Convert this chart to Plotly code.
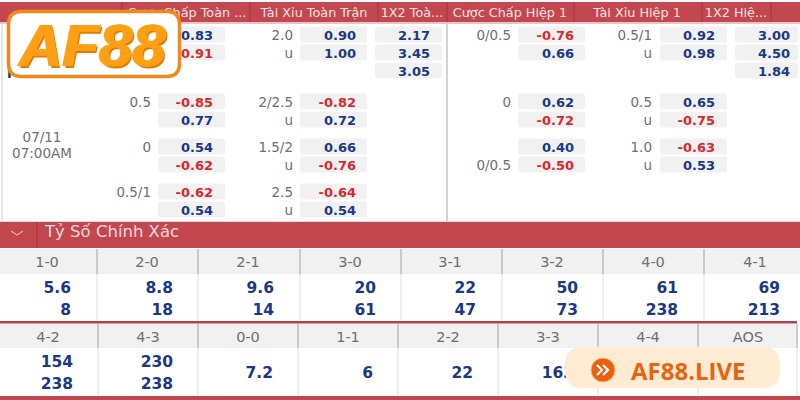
import plotly.graph_objects as go

# ---- data ----
head_labels = ["Cược Chấp Toàn ...", "Tài Xỉu Toàn Trận", "1X2 Toà...", "Cược Chấp Hiệp 1", "Tài Xỉu Hiệp 1", "1X2 Hiệ..."]

hcp_ft_lines = ["", "", "", "0.5", "", "0", "", "0.5/1", ""]
hcp_ft_odds = ["0.83", "-0.91", "", "-0.85", "0.77", "0.54", "-0.62", "-0.62", "0.54"]
ou_ft_lines = ["2.0", "u", "", "2/2.5", "u", "1.5/2", "u", "2.5", "u"]
ou_ft_odds = ["0.90", "1.00", "", "-0.82", "0.72", "0.66", "-0.76", "-0.64", "0.54"]
x12_ft_odds = ["2.17", "3.45", "3.05", "", "", "", "", "", ""]
hcp_h1_lines = ["0/0.5", "", "", "0", "", "", "0/0.5", "", ""]
hcp_h1_odds = ["-0.76", "0.66", "", "0.62", "-0.72", "0.40", "-0.50", "", ""]
ou_h1_lines = ["0.5/1", "u", "", "0.5", "u", "1.0", "u", "", ""]
ou_h1_odds = ["0.92", "0.98", "", "0.65", "-0.75", "-0.63", "0.53", "", ""]
x12_h1_odds = ["3.00", "4.50", "1.84", "", "", "", "", "", ""]

match_time = ["07/11", "07:00AM"]
section_title = "Tỷ Số Chính Xác"

scores_1 = ["1-0", "2-0", "2-1", "3-0", "3-1", "3-2", "4-0", "4-1"]
score_top_1 = ["5.6", "8.8", "9.6", "20", "22", "50", "61", "69"]
score_bot_1 = ["8", "18", "14", "61", "47", "73", "238", "213"]
scores_2 = ["4-2", "4-3", "0-0", "1-1", "2-2", "3-3", "4-4", "AOS"]
score_top_2 = ["154", "230", "", "", "", "", "", ""]
score_bot_2 = ["238", "238", "", "", "", "", "", ""]
score_mid_2 = ["", "", "7.2", "6", "22", "163", "", ""]

# ---- layout of the page ----
RED = "#C3474F"
BLUE = "#1A3885"
ODD_RED = "#D8282F"
GREY_TXT = "#6E6E6E"
CELL = "#F1F1F1"
ORANGE = "#F08A1C"
TEXT_DY = 2  # plotly centres text a little high

row_y = [34.5, 52.5, 70.5, 101.5, 119.5, 146.5, 164.5, 191.5, 209.5]
cell_spans = [(158, 225), (300, 367), (375, 442), (518, 585), (660, 727), (735, 798)]
odds_right = [213, 356, 430, 574, 715, 790]
line_right = [151, 293, 511, 652]
head_x = [187, 314, 412, 510, 637, 736]
head_seps = [122, 250, 378, 447, 574, 702, 771]
seps_1 = [97, 198, 300, 401, 502, 603, 704]
seps_2 = [98, 198, 298, 398, 498, 598, 698, 797]
label_x_1 = [47, 147, 248, 350, 450, 552, 653, 755]
label_x_2 = [48, 148, 248, 348, 448, 548, 648, 748]
right_1 = [71, 173, 274, 376, 476, 578, 678, 780]
right_2 = [73, 173, 273, 373, 473, 574, 674, 774]


def rect(x0, y0, x1, y1, color, layer="below"):
    return dict(type="rect", x0=x0, y0=y0, x1=x1, y1=y1, fillcolor=color,
                line_width=0, layer=layer)


def round_rect(x0, y0, x1, y1, r, color, layer="below", border=None, bw=0):
    p = (f"M{x0+r},{y0} L{x1-r},{y0} Q{x1},{y0} {x1},{y0+r} L{x1},{y1-r} Q{x1},{y1} {x1-r},{y1} "
         f"L{x0+r},{y1} Q{x0},{y1} {x0},{y1-r} L{x0},{y0+r} Q{x0},{y0} {x0+r},{y0} Z")
    return dict(type="path", path=p, fillcolor=color, layer=layer,
                line=dict(color=border or color, width=bw))


def vline(x, y0, y1, color, w=1, layer="below"):
    return dict(type="line", x0=x, x1=x, y0=y0, y1=y1, layer=layer,
                line=dict(color=color, width=w))


def odd_color(v):
    return ODD_RED if v.startswith("-") else BLUE


shapes = []
shapes.append(rect(0, 2, 800, 22, RED))
shapes.append(rect(0, 22, 800, 24, "#E9C4C6"))
for x in head_seps:
    shapes.append(vline(x, 2, 22, "#A5343C"))
shapes.append(vline(2, 24, 221, "#D0D0D0", 1))
shapes.append(vline(447, 24, 221, "#C4C4C4", 1.5))
shapes.append(rect(0, 221, 800, 222, "#DADADA"))

all_odds = [hcp_ft_odds, ou_ft_odds, x12_ft_odds, hcp_h1_odds, ou_h1_odds, x12_h1_odds]
for span, col in zip(cell_spans, all_odds):
    for y, v in zip(row_y, col):
        if v:
            shapes.append(round_rect(span[0], y - 8, span[1], y + 8, 3, CELL))

# exact score block
shapes.append(rect(0, 222, 800, 248, RED))
shapes.append(vline(37, 222, 248, "#A5343C"))
shapes.append(dict(type="path", path="M11,231 L17,235 L23,231", layer="below",
                   line=dict(color="#F0D5D6", width=1)))
shapes.append(rect(0, 249, 800, 274, CELL))
shapes.append(rect(0, 324, 797, 348, CELL))
for x in seps_1:
    shapes.append(vline(x, 249, 274, "#BDBDBD", 1.5))
    shapes.append(vline(x, 274, 321, "#E0E0E0", 1))
for x in seps_2:
    shapes.append(vline(x, 324, 348, "#BDBDBD", 1.5))
    shapes.append(vline(x, 348, 395, "#E0E0E0", 1))
shapes.append(rect(0, 321, 797, 323.5, "#B5404A"))
shapes.append(rect(0, 396, 800, 400, RED))

# logo and badge sit on top of the table
shapes.append(round_rect(8.5, 11.5, 179.5, 76.5, 13, "#FFFFFF", "above", ORANGE, 3.5))
shapes.append(round_rect(565, 347, 780, 388, 18, "#FDEBD2", "above"))
shapes.append(dict(type="circle", x0=591, y0=358, x1=615, y1=382, fillcolor="#E9610E",
                   line=dict(color="#F6B98A", width=1), layer="above"))
for dx in (0, 6):
    shapes.append(dict(type="path", path=f"M{597+dx},365 L{602+dx},370 L{597+dx},375", layer="above",
                       line=dict(color="#FFFFFF", width=2.2)))

fig = go.Figure()


def text_trace(xs, ys, texts, color, size, family, pos, bold=False):
    keep = [i for i, t in enumerate(texts) if t]
    colors = color if isinstance(color, str) else [color[i] for i in keep]
    fig.add_trace(go.Scatter(
        x=[xs[i] for i in keep], y=[ys[i] + TEXT_DY for i in keep], text=[texts[i] for i in keep],
        mode="text", textposition=pos, hoverinfo="skip", showlegend=False, cliponaxis=False,
        textfont=dict(color=colors, size=size, family=family, weight="bold" if bold else "normal"),
    ))


BODY = "DejaVu Sans"

text_trace(head_x, [11.5] * 6, head_labels, "#F5E3E3", 12.8, BODY, "middle center")

for right, col in zip(odds_right, all_odds):
    text_trace([right] * 9, row_y, col, [odd_color(v) for v in col], 13, BODY, "middle left", True)

for right, col in zip(line_right, [hcp_ft_lines, ou_ft_lines, hcp_h1_lines, ou_h1_lines]):
    text_trace([right] * 9, row_y, col, GREY_TXT, 13.5, BODY, "middle left")

text_trace([42, 42], [137, 153], match_time, GREY_TXT, 13.5, BODY, "middle center")
text_trace([7], [73], ["FT"], "#333333", 13, BODY, "middle right", True)
text_trace([45], [231], [section_title], "#F3D9DA", 16.5, BODY, "middle right")

text_trace(label_x_1, [261] * 8, scores_1, GREY_TXT, 14.5, BODY, "middle center")
text_trace(label_x_2, [336] * 8, scores_2, GREY_TXT, 14.5, BODY, "middle center")
text_trace(right_1, [287] * 8, score_top_1, BLUE, 15.5, BODY, "middle left", True)
text_trace(right_1, [309] * 8, score_bot_1, BLUE, 15.5, BODY, "middle left", True)
text_trace(right_2, [361] * 8, score_top_2, BLUE, 15.5, BODY, "middle left", True)
text_trace(right_2, [383] * 8, score_bot_2, BLUE, 15.5, BODY, "middle left", True)
text_trace(right_2, [372] * 8, score_mid_2, BLUE, 15.5, BODY, "middle left", True)

annotations = [
    dict(x=91, y=45, text="<b><i>AF88</i></b>", showarrow=False,
         font=dict(size=60, family="Liberation Sans", color="#FF9F14",
                   shadow="1px 0 0 #FF9F14, -1px 0 0 #FF9F14, 2px 2px 0 #DE7A05")),
    dict(x=688, y=370, text="<b>AF88.LIVE</b>", showarrow=False,
         font=dict(size=24, family="Open Sans", color="#E8620F")),
]

fig.update_layout(
    width=800, height=400, margin=dict(l=0, r=0, t=0, b=0),
    paper_bgcolor="#FFFFFF", plot_bgcolor="#FFFFFF",
    shapes=shapes, annotations=annotations, showlegend=False,
)
fig.update_xaxes(range=[0, 800], visible=False, fixedrange=True)
fig.update_yaxes(range=[400, 0], visible=False, fixedrange=True)

# the page has a default 8px body margin, the reference runs edge to edge
fig.write_html("out.html", config={"displayModeBar": False},
               post_script="document.body.style.margin='0';document.body.style.overflow='hidden';")
